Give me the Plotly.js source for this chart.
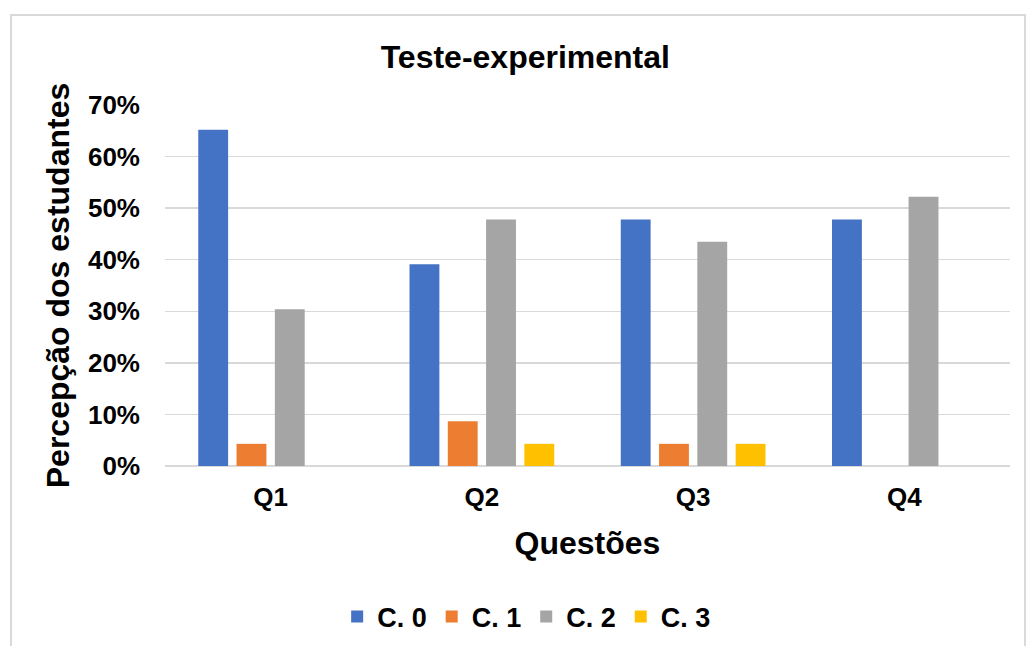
<!DOCTYPE html>
<html>
<head>
<meta charset="utf-8">
<script src="https://cdn.plot.ly/plotly-3.0.1.min.js"></script>
<style>
  html, body { margin: 0; padding: 0; background: #ffffff; }
  #chart { width: 1026px; height: 646px; }
</style>
</head>
<body>
<div id="chart"></div>
<script>
// Data
var questions = ["Q1", "Q2", "Q3", "Q4"];
var seriesNames = ["C. 0", "C. 1", "C. 2", "C. 3"];
var c0 = [0.652, 0.391, 0.478, 0.478];
var c1 = [0.043, 0.087, 0.043, 0.0];
var c2 = [0.304, 0.478, 0.435, 0.522];
var c3 = [0.0, 0.043, 0.043, 0.0];
var yTicks = [0, 0.1, 0.2, 0.3, 0.4, 0.5, 0.6, 0.7];
var yTickText = ["0%", "10%", "20%", "30%", "40%", "50%", "60%", "70%"];
var colors = ["#4472C4", "#ED7D31", "#A5A5A5", "#FFC000"];

var allSeries = [c0, c1, c2, c3];
var FONT = '"Liberation Sans", Arial, sans-serif';

var traces = allSeries.map(function (vals, i) {
  return {
    type: "bar",
    name: seriesNames[i],
    x: questions,
    y: vals,
    marker: { color: colors[i], line: { width: 0 } },
    hoverinfo: "x+y+name"
  };
});

var layout = {
  width: 1026,
  height: 646,
  paper_bgcolor: "#ffffff",
  plot_bgcolor: "#ffffff",
  font: { family: FONT, color: "#000000" },
  margin: { l: 165, r: 16, t: 105, b: 180, autoexpand: false },
  barmode: "group",
  bargap: 0.275,
  bargroupgap: 0.22,
  title: {
    text: "<b>Teste-experimental</b>",
    font: { family: FONT, size: 32, color: "#000000" },
    x: 0.512, xanchor: "center", xref: "container",
    y: 0.912, yanchor: "middle", yref: "container"
  },
  xaxis: {
    type: "category",
    showgrid: false,
    showline: false,
    zeroline: false,
    ticks: "",
    ticklabelstandoff: 13,
    tickfont: { family: FONT, size: 26, color: "#000000", weight: "bold" },
    title: {
      text: "<b>Questões</b>",
      font: { family: FONT, size: 32, color: "#000000" },
      standoff: 20
    },
    fixedrange: true
  },
  yaxis: {
    range: [0, 0.7],
    tickvals: yTicks,
    ticktext: yTickText,
    showgrid: true,
    gridcolor: "#d9d9d9",
    gridwidth: 1.5,
    zeroline: true,
    zerolinecolor: "#d9d9d9",
    zerolinewidth: 1.5,
    showline: false,
    ticks: "",
    ticklabelstandoff: 24,
    tickfont: { family: FONT, size: 26, color: "#000000", weight: "bold" },
    title: {
      text: "<b>Percepção dos estudantes</b>",
      font: { family: FONT, size: 32, color: "#000000" },
      standoff: 8
    },
    fixedrange: true
  },
  showlegend: true,
  legend: {
    orientation: "h",
    x: 0.428, xanchor: "center",
    y: -0.418, yanchor: "middle",
    font: { family: FONT, size: 27, color: "#000000", weight: "bold" },
    bgcolor: "rgba(0,0,0,0)",
    traceorder: "normal"
  },
  shapes: [{
    type: "rect",
    xref: "paper", yref: "paper",
    x0: -0.1822, x1: 1.0178,
    y0: -0.62, y1: 1.2493,
    line: { color: "#d9d9d9", width: 2 },
    fillcolor: "rgba(0,0,0,0)",
    layer: "below"
  }]
};

Plotly.newPlot("chart", traces, layout, { displayModeBar: false, staticPlot: true });
</script>
</body>
</html>
